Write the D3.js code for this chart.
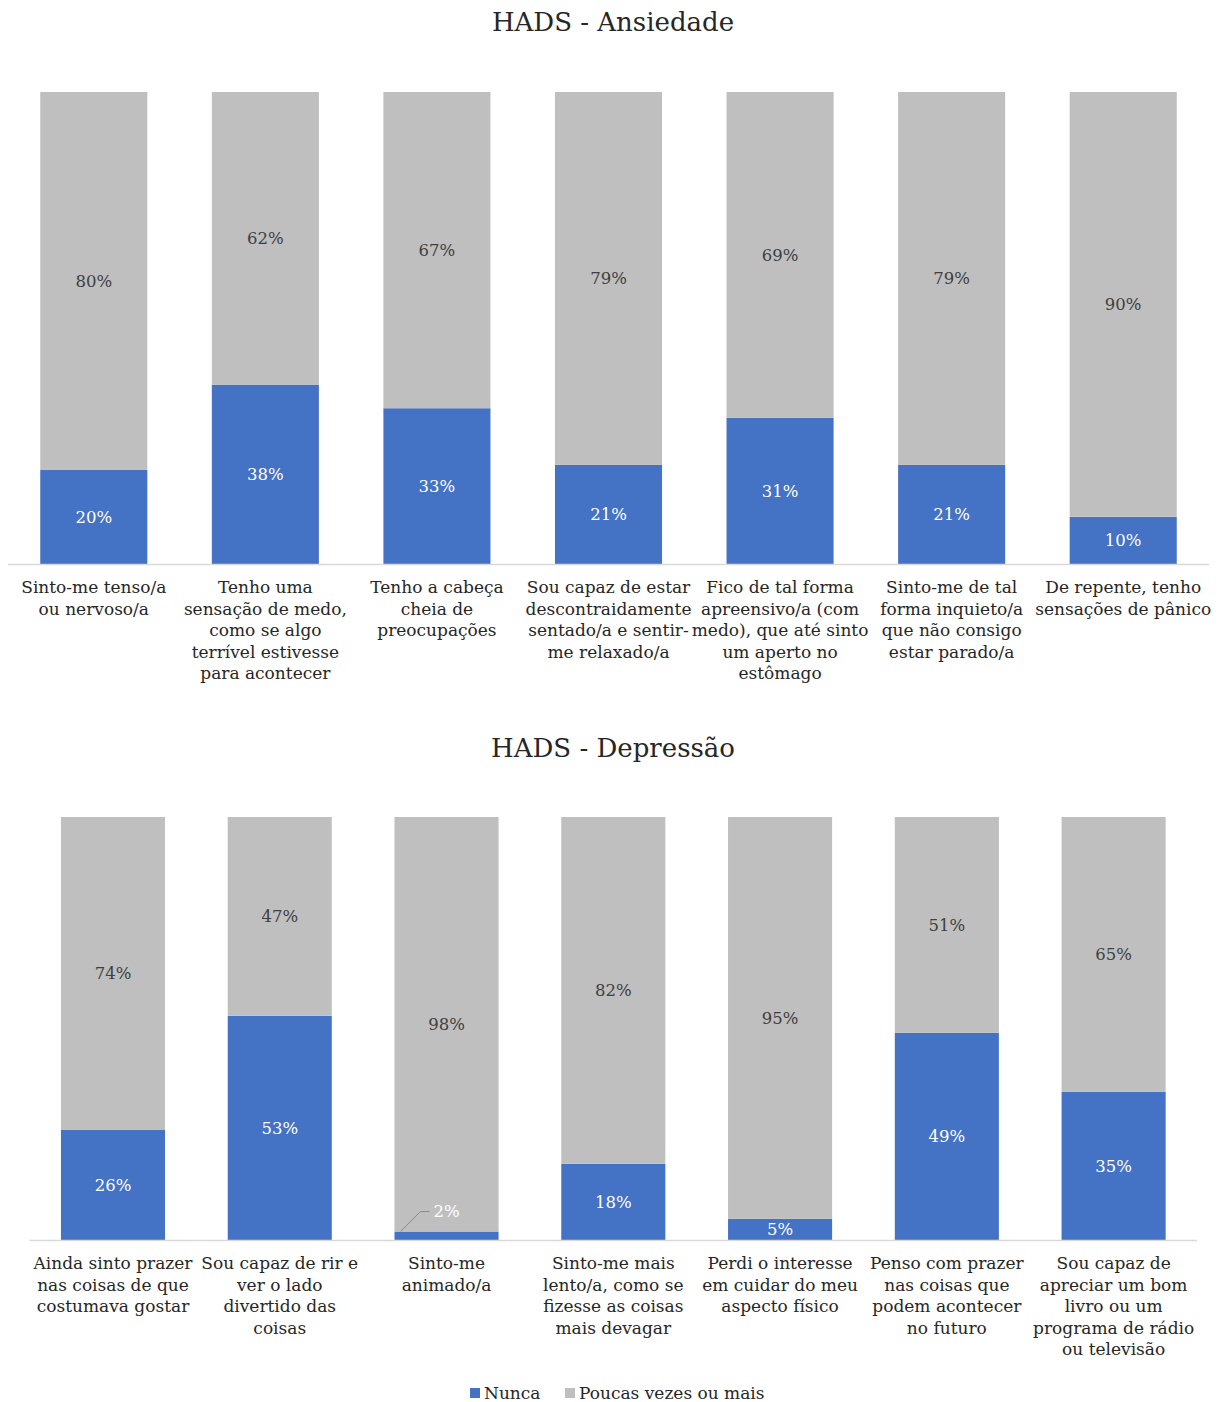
<!DOCTYPE html>
<html>
<head>
<meta charset="utf-8">
<script src="https://cdn.jsdelivr.net/npm/d3@7"></script>
<style>
  html, body { margin: 0; padding: 0; background: #fff; }
  svg { display: block; }
  text { font-family: "DejaVu Serif", serif; }
</style>
</head>
<body>
<svg id="chart" width="1220" height="1402"></svg>
<script>
// HADS item responses (percent of respondents)
const anxietyItems = [
  "Sinto-me tenso/a\nou nervoso/a",
  "Tenho uma\nsensação de medo,\ncomo se algo\nterrível estivesse\npara acontecer",
  "Tenho a cabeça\ncheia de\npreocupações",
  "Sou capaz de estar\ndescontraidamente\nsentado/a e sentir-\nme relaxado/a",
  "Fico de tal forma\napreensivo/a (com\nmedo), que até sinto\num aperto no\nestômago",
  "Sinto-me de tal\nforma inquieto/a\nque não consigo\nestar parado/a",
  "De repente, tenho\nsensações de pânico"
];
const anxietyNunca  = [20, 38, 33, 21, 31, 21, 10];
const anxietyPoucas = [80, 62, 67, 79, 69, 79, 90];

const depressionItems = [
  "Ainda sinto prazer\nnas coisas de que\ncostumava gostar",
  "Sou capaz de rir e\nver o lado\ndivertido das\ncoisas",
  "Sinto-me\nanimado/a",
  "Sinto-me mais\nlento/a, como se\nfizesse as coisas\nmais devagar",
  "Perdi o interesse\nem cuidar do meu\naspecto físico",
  "Penso com prazer\nnas coisas que\npodem acontecer\nno futuro",
  "Sou capaz de\napreciar um bom\nlivro ou um\nprograma de rádio\nou televisão"
];
const depressionNunca  = [26, 53, 2, 18, 5, 49, 35];
const depressionPoucas = [74, 47, 98, 82, 95, 51, 65];

const seriesNames = ["Nunca", "Poucas vezes ou mais"];
const colors = ["#4472C4", "#BFBFBF"];

const svg = d3.select("#chart");

function drawPanel(opts) {
  const { title, titleY, items, nunca, poucas, x0, x1, top, bottom, labelY } = opts;
  const g = svg.append("g");

  g.append("text")
    .attr("x", 613).attr("y", titleY)
    .attr("text-anchor", "middle")
    .attr("font-size", 26)
    .attr("fill", "#262626")
    .text(title);

  const x = d3.scaleBand().domain(items).range([x0, x1])
    .paddingInner(0.376).paddingOuter(0.188);
  const y = d3.scaleLinear().domain([0, 100]).range([bottom, top]);

  const rows = items.map((c, i) => ({ cat: c, Nunca: nunca[i], Poucas: poucas[i] }));
  const stack = d3.stack().keys(["Nunca", "Poucas"])(rows);

  stack.forEach((layer, li) => {
    g.append("g").selectAll("rect").data(layer).join("rect")
      .attr("x", d => x(d.data.cat))
      .attr("width", x.bandwidth())
      .attr("y", d => y(d[1]))
      .attr("height", d => y(d[0]) - y(d[1]))
      .attr("fill", colors[li]);
  });

  // axis baseline
  g.append("line")
    .attr("x1", x0).attr("x2", x1)
    .attr("y1", bottom + 0.5).attr("y2", bottom + 0.5)
    .attr("stroke", "#D9D9D9").attr("stroke-width", 1.5);

  // value labels
  stack.forEach((layer, li) => {
    layer.forEach(d => {
      const v = d[1] - d[0];
      const cx = x(d.data.cat) + x.bandwidth() / 2;
      let cy = (y(d[0]) + y(d[1])) / 2;
      if (li === 0 && v < 4) {
        // small segment: label lifted with a leader line
        const bx = x(d.data.cat) + 6;
        const by = y(d[1]);
        cy = by - 20;
        g.append("polyline")
          .attr("points", [[bx, by], [bx + 20, cy], [cx - 17, cy]].map(p => p.join(",")).join(" "))
          .attr("fill", "none").attr("stroke", "#8C8C8C").attr("stroke-width", 1);
      }
      g.append("text")
        .attr("x", cx).attr("y", cy)
        .attr("dy", "0.35em")
        .attr("text-anchor", "middle")
        .attr("font-size", 16.5)
        .attr("fill", li === 0 ? "#FFFFFF" : "#404040")
        .text(v + "%");
    });
  });

  // category labels
  items.forEach(c => {
    const cx = x(c) + x.bandwidth() / 2;
    const t = g.append("text")
      .attr("x", cx)
      .attr("y", labelY)
      .attr("text-anchor", "middle")
      .attr("font-size", 17)
      .attr("fill", "#262626");
    c.split("\n").forEach((line, i) => {
      t.append("tspan").attr("x", cx)
        .attr("dy", i === 0 ? "0.35em" : 21.6)
        .text(line);
    });
  });
}

drawPanel({
  title: "HADS - Ansiedade", titleY: 31,
  items: anxietyItems, nunca: anxietyNunca, poucas: anxietyPoucas,
  x0: 8, x1: 1209, top: 92, bottom: 564, labelY: 587
});

drawPanel({
  title: "HADS - Depressão", titleY: 757,
  items: depressionItems, nunca: depressionNunca, poucas: depressionPoucas,
  x0: 29.6, x1: 1197, top: 817, bottom: 1240, labelY: 1263
});

// legend
const legend = svg.append("g").attr("transform", "translate(0,1393)");
const legendX = [470, 565];
seriesNames.forEach((name, i) => {
  legend.append("rect")
    .attr("x", legendX[i]).attr("y", -5)
    .attr("width", 10).attr("height", 10)
    .attr("fill", colors[i]);
  legend.append("text")
    .attr("x", legendX[i] + 14).attr("y", 0)
    .attr("dy", "0.35em")
    .attr("font-size", 17)
    .attr("fill", "#262626")
    .text(name);
});
</script>
</body>
</html>
